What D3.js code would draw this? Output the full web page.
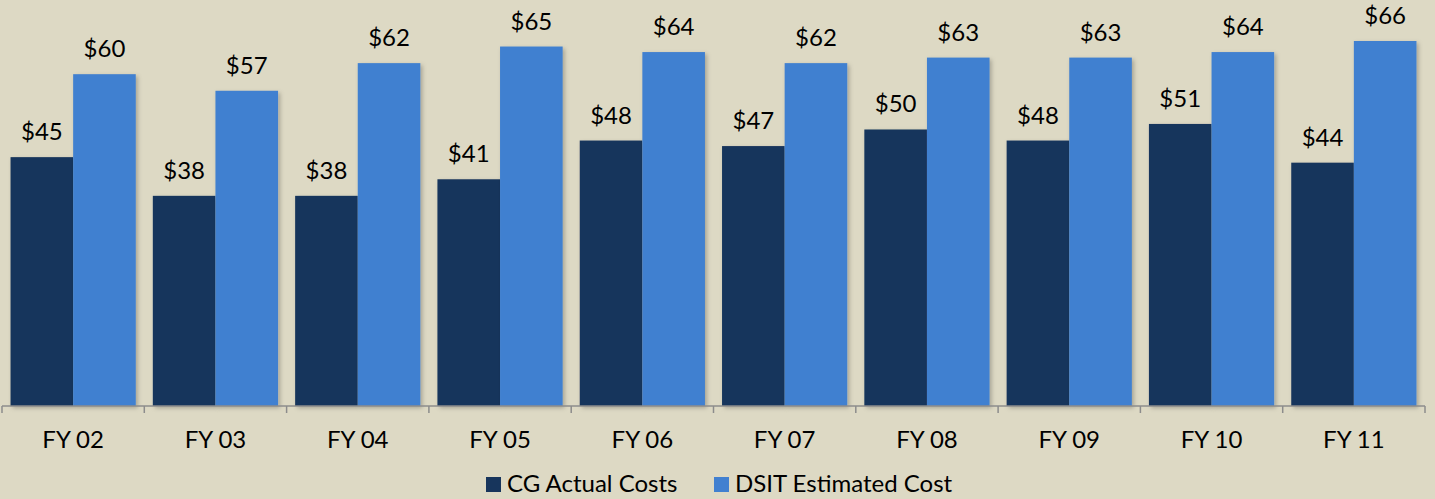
<!DOCTYPE html>
<html>
<head>
<meta charset="utf-8">
<script src="https://cdn.jsdelivr.net/npm/d3@7"></script>
<style>
  body { margin: 0; background: #ddd9c4; }
  text { font-family: Lato, "Open Sans", sans-serif; fill: #000; }
</style>
</head>
<body>
<div id="chart"></div>
<script>
// chart data
const years = ["FY 02", "FY 03", "FY 04", "FY 05", "FY 06", "FY 07", "FY 08", "FY 09", "FY 10", "FY 11"];
const actualCosts = [45, 38, 38, 41, 48, 47, 50, 48, 51, 44];
const estimatedCosts = [60, 57, 62, 65, 64, 62, 63, 63, 64, 66];
const seriesNames = ["CG Actual Costs", "DSIT Estimated Cost"];

const width = 1435, height = 499;
const colors = ["#17355c", "#4180d0"];

let svg = d3.select("#chart").append("svg")
            .attr("width", width)
            .attr("height", height)

svg.append("rect").attr("width", width).attr("height", height).attr("fill", "#ddd9c4")

let defs = svg.append("defs")
let shadow = defs.append("filter").attr("id", "shadow")
                 .attr("x", "-10%").attr("y", "-10%").attr("width", "130%").attr("height", "130%")
shadow.append("feDropShadow").attr("dx", 2).attr("dy", 2).attr("stdDeviation", 2)
      .attr("flood-color", "#000").attr("flood-opacity", 0.25)

const x = d3.scaleBand()
            .domain(years)
            .range([2, 1425])
            .paddingInner(0.12)
            .paddingOuter(0.06)

const sub = d3.scaleBand()
              .domain([0, 1])
              .range([0, x.bandwidth()])

const y = d3.scaleLinear()
            .domain([0, 66])
            .range([406, 41])

const rows = years.map((yr, i) => ({year: yr, vals: [actualCosts[i], estimatedCosts[i]]}))

let group = svg.selectAll("g.year")
               .data(rows)
               .enter()
               .append("g")
               .attr("class", "year")
               .attr("transform", d => "translate(" + x(d.year) + ",0)")

group.selectAll("rect")
     .data(d => d.vals)
     .enter()
     .append("rect")
     .attr("x", (d, i) => sub(i))
     .attr("y", d => y(d))
     .attr("width", sub.bandwidth())
     .attr("height", d => y(0) - y(d))
     .attr("fill", (d, i) => colors[i])
     .attr("filter", "url(#shadow)")

// value labels above each bar
group.selectAll("text")
     .data(d => d.vals)
     .enter()
     .append("text")
     .attr("x", (d, i) => sub(i) + sub.bandwidth() / 2)
     .attr("y", d => y(d) - 17)
     .attr("text-anchor", "middle")
     .style("font-size", "24px")
     .text(d => "$" + d)

// x axis
const axis = svg.append("g")
                .attr("transform", "translate(0," + y(0) + ")")
                .call(d3.axisBottom(x).tickSize(0).tickPadding(25))
axis.select(".domain").attr("stroke", "#8c8c8c").attr("stroke-width", 1.5)
    .attr("d", "M2,0H1425")
axis.selectAll("text").style("font-size", "24px")

// tick marks between categories
const edges = years.map(yr => x(yr) - x.step() * x.paddingOuter()).concat([1425])
axis.selectAll("line.sep")
    .data(edges)
    .enter()
    .append("line")
    .attr("class", "sep")
    .attr("x1", d => d).attr("x2", d => d)
    .attr("y1", 0).attr("y2", 7)
    .attr("stroke", "#8c8c8c")
    .attr("stroke-width", 1.5)

// legend
const legendX = [486, 714];
let legend = svg.selectAll("g.legend")
                .data(seriesNames)
                .enter()
                .append("g")
                .attr("class", "legend")
                .attr("transform", (d, i) => "translate(" + legendX[i] + ",477)")
legend.append("rect")
      .attr("width", 15).attr("height", 15)
      .attr("fill", (d, i) => colors[i])
legend.append("text")
      .attr("x", 21).attr("y", 15)
      .style("font-size", "24px")
      .text(d => d)
</script>
</body>
</html>
